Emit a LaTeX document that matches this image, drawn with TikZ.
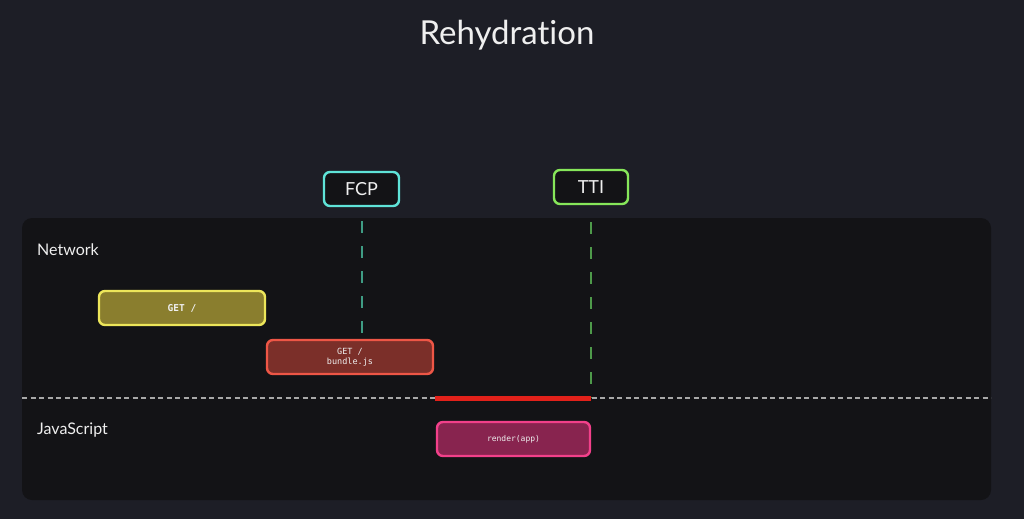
\documentclass[tikz,border=0pt]{standalone}
\usepackage{fontspec}
\setmainfont{Lato}[Ligatures=CommonOff]
\setmonofont{DejaVu Sans Mono}
\usepackage{tikz}
\usetikzlibrary{positioning,calc}
\definecolor{cBg}{HTML}{1D1E26}
\definecolor{cPanel}{HTML}{131316}
\definecolor{cText}{HTML}{EFEFEF}
\definecolor{cTeal}{HTML}{5FE3D8}
\definecolor{cLime}{HTML}{86E65A}
\definecolor{cTealDash}{HTML}{3F9C84}
\definecolor{cLimeDash}{HTML}{4E9A4A}
\definecolor{cOlive}{HTML}{8A7E2E}
\definecolor{cYellow}{HTML}{EDE65A}
\definecolor{cBrick}{HTML}{7B2F29}
\definecolor{cCoral}{HTML}{EE5646}
\definecolor{cPlum}{HTML}{88244F}
\definecolor{cPink}{HTML}{F2408A}
\definecolor{cRedBar}{HTML}{E2211A}
\definecolor{cSep}{HTML}{A8A8A8}

\begin{document}
\begin{tikzpicture}[
  x=1pt, y=-1pt,
  panel/.style={rectangle, rounded corners=10pt, fill=cPanel, draw=none,
    minimum width=969pt, minimum height=282pt, inner sep=0pt},
  marker/.style={rectangle, rounded corners=6pt, line width=2.4pt,
    fill=cPanel, text=cText, minimum height=34pt, inner sep=0pt,
    font=\fontsize{18}{20}\selectfont},
  req/.style={rectangle, rounded corners=6pt, line width=2.4pt,
    text=cText, minimum width=166pt, minimum height=34pt, inner sep=0pt,
    align=center, font=\ttfamily\fontsize{8.5}{10.5}\selectfont},
  lane/.style={text=cText, anchor=base west, inner sep=0pt,
    font=\fontsize{16}{18}\selectfont},
  milestone/.style={line width=2pt, dash pattern=on 12pt off 13pt},
]
% ---------------------------------------------------------------- frame
\fill[cBg] (0,0) rectangle (1024,519);
\node[text=cText, font=\fontsize{33}{36}\selectfont, anchor=base]
  (title) at (507,45) {Rehydration};
\node[panel] (panel) at (506.5,359) {};
% ---------------------------------------------------------------- lanes
\node[lane] (net) at (37,255) {Network};
\node[lane] (js) at (37,434) {JavaScript};
\coordinate (sepL) at (22,398);
\coordinate (sepR) at (991,398);
\draw[cSep, line width=1.6pt, dash pattern=on 5pt off 3.5pt] (sepL) -- (sepR);
% ---------------------------------------------------------------- markers
\node[marker, draw=cTeal, minimum width=75pt] (fcp) at (361.5,189) {FCP};
\node[marker, draw=cLime, minimum width=74pt] (tti) at (591,187) {TTI};
% ---------------------------------------------------------------- requests
\node[req, draw=cYellow, fill=cOlive, font=\ttfamily\bfseries\fontsize{9.5}{11}\selectfont]
  (get) at (182,308) {GET /};
\node[req, draw=cCoral, fill=cBrick] (bundle) at (350,357) {GET /\\bundle.js};
\node[req, draw=cPink, fill=cPlum, minimum width=153pt, font=\ttfamily\fontsize{8}{10}\selectfont]
  (render) at (513.5,439) {render(app)};
% ---------------------------------------------------------------- lines
\draw[milestone, cTealDash] ([yshift=-14pt]fcp.south) -- (fcp.south |- bundle.north);
\draw[milestone, cLimeDash] ([yshift=-17pt]tti.south) -- (tti.south |- sepL);
\draw[cRedBar, line width=5pt] ([xshift=1pt]bundle.east |- sepL) -- (tti.south |- sepL);
\end{tikzpicture}
\end{document}
